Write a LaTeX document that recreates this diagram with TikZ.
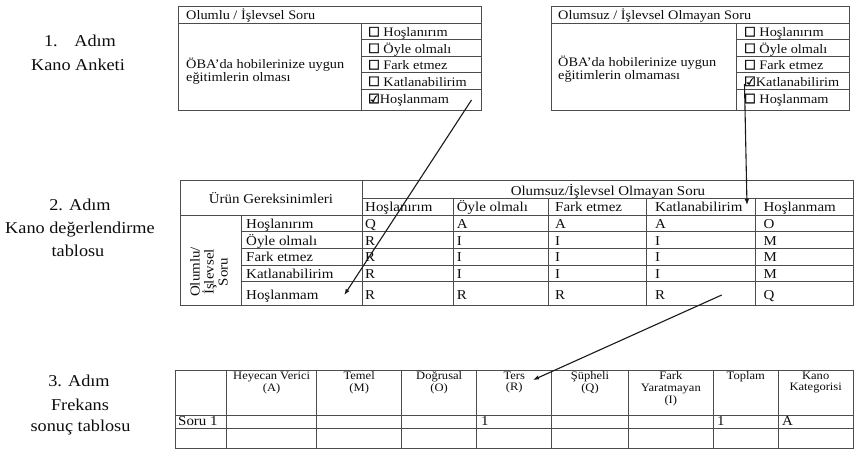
\documentclass[tikz,border=0pt]{standalone}
\usepackage{fontspec}
\setmainfont{Liberation Serif}[FakeStretch=1.1]
\newfontfamily\symf{DejaVu Sans}[FakeBold=2.5]
\usetikzlibrary{arrows.meta}

\newcommand{\fsz}[1]{\fontsize{#1}{#1}\selectfont}
\newcommand{\ebox}{{\symf\fontsize{13}{13}\selectfont ☐}}
\newcommand{\cbox}{{\symf\fontsize{13}{13}\selectfont ☑}}

\tikzset{
  grid/.style={draw=black!70, line width=0.9pt},
  tx/.style={inner sep=0pt, anchor=base west, text=black!95},
  txc/.style={inner sep=0pt, anchor=base, text=black!95},
  survey/.style={tx, font=\fsz{13}},
  evalt/.style={tx, font=\fsz{13.6}},
  steplabel/.style={txc, font=\fsz{16.6}},
  freqhead/.style={inner sep=0pt, anchor=north, align=center, text=black!95,
                   font=\fontsize{11.4}{11.8}\selectfont},
  freqrow/.style={tx, font=\fsz{13.6}},
  link/.style={-{Latex[length=6pt,width=4.5pt]}, line width=1.1pt, black!90}
}

\begin{document}
\begin{tikzpicture}[x=1pt,y=-1pt]
\useasboundingbox (0,0) rectangle (855,450);

% ---------- step labels ----------
\node[steplabel] (s1a) at (80,46.7) {1.\hspace{1em}Adım};
\node[steplabel] (s1b) at (78,70) {Kano Anketi};
\node[steplabel] (s2a) at (80,210) {2. Adım};
\node[steplabel] (s2b) at (80,233) {Kano değerlendirme};
\node[steplabel] (s2c) at (78,256.7) {tablosu};
\node[steplabel] (s3a) at (79,386.7) {3. Adım};
\node[steplabel] (s3b) at (80,410) {Frekans};
\node[steplabel] (s3c) at (80.5,431.7) {sonuç tablosu};

% ---------- survey: functional question ----------
\draw[grid] (178.5,6.5) rectangle (481.5,110);
\draw[grid] (178.5,23) -- (481.5,23);
\draw[grid] (361.5,23) -- (361.5,110);
\foreach \y in {39.5,56,72.7,89.3} \draw[grid] (361.5,\y) -- (481.5,\y);
\node[survey] (fq) at (186,19.3) {Olumlu / İşlevsel Soru};
\node[survey] (fqa) at (186,68) {ÖBA'da hobilerinize uygun};
\node[survey] (fqb) at (186,81.7) {eğitimlerin olması};
\node[survey] (f1) at (368,36.5) {\ebox\ Hoşlanırım};
\node[survey] (f2) at (368,53) {\ebox\ Öyle olmalı};
\node[survey] (f3) at (368,69.5) {\ebox\ Fark etmez};
\node[survey] (f4) at (368,86) {\ebox\ Katlanabilirim};
\node[survey] (f5) at (368,103.3) {\cbox Hoşlanmam};

% ---------- survey: dysfunctional question ----------
\draw[grid] (551.5,6.5) rectangle (849,110);
\draw[grid] (551.5,23) -- (849,23);
\draw[grid] (736.5,23) -- (736.5,110);
\foreach \y in {39.5,56,72.7,89.3} \draw[grid] (736.5,\y) -- (849,\y);
\node[survey] (dq) at (558,19.3) {Olumsuz / İşlevsel Olmayan Soru};
\node[survey] (dqa) at (558,66.7) {ÖBA'da hobilerinize uygun};
\node[survey] (dqb) at (558,79.3) {eğitimlerin olmaması};
\node[survey] (d1) at (744,36.5) {\ebox\ Hoşlanırım};
\node[survey] (d2) at (744,53) {\ebox\ Öyle olmalı};
\node[survey] (d3) at (744,69.5) {\ebox\ Fark etmez};
\node[survey] (d4) at (744,86) {\cbox Katlanabilirim};
\node[survey] (d5) at (744,103.3) {\ebox\ Hoşlanmam};

% ---------- evaluation table ----------
\draw[grid] (180,180) rectangle (853,305);
\draw[grid] (362.7,198.3) -- (853,198.3);
\draw[grid] (180,215) -- (853,215);
\foreach \y in {231.7,248.3,265,281.7} \draw[grid] (241.7,\y) -- (853,\y);
\draw[grid] (362.7,180) -- (362.7,305);
\draw[grid] (241.7,215) -- (241.7,305);
\foreach \x in {453.3,548.3,646.7,755} \draw[grid] (\x,198.3) -- (\x,305);

\node[evalt, anchor=base] (eh) at (271,203) {Ürün Gereksinimleri};
\node[evalt, anchor=base] (ed) at (608,195) {Olumsuz/İşlevsel Olmayan Soru};
\node[evalt, rotate=90, anchor=center, align=center,
      font=\fontsize{13.6}{14}\selectfont] (ef) at (209,272) {Olumlu/\\İşlevsel\\Soru};

\foreach \lab [count=\i] in {Hoşlanırım,Öyle olmalı,Fark etmez,Katlanabilirim,Hoşlanmam}{
  \pgfmathsetmacro{\cx}{{365,456.7,555,655,763.3}[\i-1]}
  \node[evalt] (c\i) at (\cx,211.7) {\lab};
}
\foreach \lab [count=\i] in {Hoşlanırım,Öyle olmalı,Fark etmez,Katlanabilirim,Hoşlanmam}{
  \pgfmathsetmacro{\ry}{{228.3,245,261.7,278.3,299.3}[\i-1]}
  \node[evalt] (r\i) at (246,\ry) {\lab};
}
\foreach \row [count=\i] in {{Q,A,A,A,O},{R,I,I,I,M},{R,I,I,I,M},{R,I,I,I,M},{R,R,R,R,Q}}{
  \pgfmathsetmacro{\ry}{{228.3,245,261.7,278.3,299.3}[\i-1]}
  \foreach \v [count=\j] in \row {
    \pgfmathsetmacro{\cx}{{365,456.7,555,655,763.3}[\j-1]}
    \node[evalt] (v\i\j) at (\cx,\ry) {\v};
  }
}

% ---------- frequency table ----------
\draw[grid] (175,370) rectangle (853,448.3);
\draw[grid] (175,415) -- (853,415);
\draw[grid] (175,428.3) -- (853,428.3);
\foreach \x in {226.7,316.7,401.7,476.7,551.7,628.3,713.3,778.3} \draw[grid] (\x,370) -- (\x,448.3);

\node[freqhead] (h1) at (271.7,371.5) {Heyecan Verici\\(A)};
\node[freqhead] (h2) at (359.2,371.5) {Temel\\(M)};
\node[freqhead] (h3) at (439.2,371.5) {Doğrusal\\(O)};
\node[freqhead] (h4) at (514.2,371.5) {Ters\\(R)};
\node[freqhead] (h5) at (590,371.5) {Şüpheli\\(Q)};
\node[freqhead] (h6) at (670.8,371.5) {Fark\\Yaratmayan\\(I)};
\node[freqhead] (h7) at (745.8,371.5) {Toplam};
\node[freqhead] (h8) at (815.7,371.5) {Kano\\Kategorisi};

\node[freqrow] (q1) at (178,425) {Soru 1};
\node[freqrow] (q1r) at (481,425) {1};
\node[freqrow] (q1t) at (717,425) {1};
\node[freqrow] (q1k) at (782,425) {A};

% ---------- connectors ----------
\coordinate (a1s) at (471.5,100);
\coordinate (a1e) at (344.3,295);
\coordinate (a2s) at (744.5,84);
\coordinate (a2e) at (747,205);
\coordinate (a3s) at (721.7,295);
\coordinate (a3e) at (533,380);
\draw[link] (a1s) -- (a1e);
\draw[link] (a2s) -- (a2e);
\draw[link] (a3s) -- (a3e);
\end{tikzpicture}
\end{document}
